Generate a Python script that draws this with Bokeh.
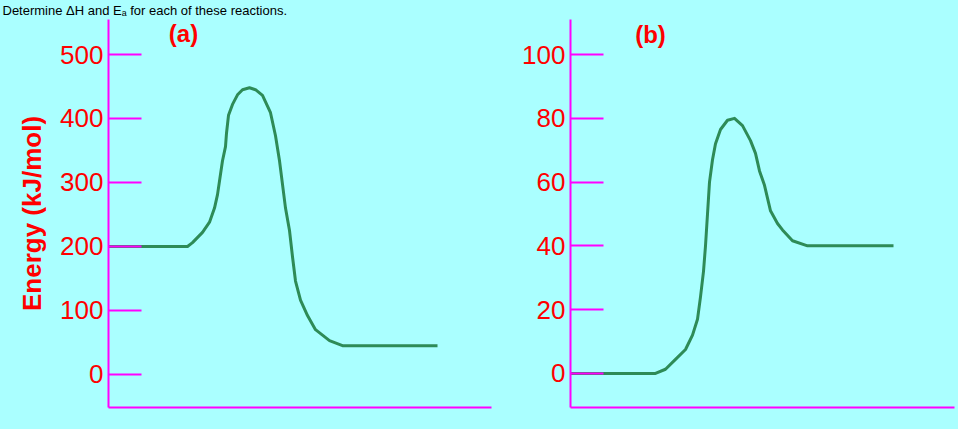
from bokeh.plotting import figure
from bokeh.models import Range1d, FixedTicker, Label, Title
from bokeh.layouts import row
from bokeh.embed import file_html
from bokeh.resources import INLINE

# ---- data ----
progress_a = [0, 79, 84, 94, 101, 106, 109, 112, 114, 117, 118, 120, 124, 129, 134, 141,
              147, 154, 162, 167, 171, 174, 177, 181, 184, 187, 192, 199, 207, 221, 234, 329]
energy_a = [200, 200, 206, 222, 238, 260, 281, 313, 334, 356, 377, 405, 422, 437, 445, 448,
            445, 436, 409, 373, 334, 297, 260, 225, 184, 146, 116, 92, 70, 53, 45, 45]

progress_b = [0, 85, 95, 105, 115, 122, 127, 130, 133, 135, 137, 139, 142, 145, 150, 157,
              164, 172, 180, 185, 189, 194, 197, 200, 207, 212, 222, 237, 323]
energy_b = [0, 0, 1.3, 4.4, 7.5, 12, 17, 24, 32, 40, 50, 60, 67, 72, 76.5, 79.4,
            80, 77.7, 73, 69, 63.5, 59, 55, 51, 47, 45, 41.6, 40, 40]

ticks_a = [0, 100, 200, 300, 400, 500]
ticks_b = [0, 20, 40, 60, 80, 100]
title_a = "(a)"
title_b = "(b)"
y_label = "Energy (kJ/mol)"
header = "Determine \u0394H and E\u2090 for each of these reactions."

BG = "#aaffff"
AX = "#ff00ff"
RED = "#ff0000"
GREEN = "#2e8b57"
FONT = "Liberation Sans"


def make_panel(xs, ys, yr, xr, ticks, width, left, right, title, tx, ty, ylab=None):
    p = figure(width=width, height=429, output_backend="svg", toolbar_location=None,
               x_range=Range1d(*xr), y_range=Range1d(*yr),
               min_border_left=left, min_border_right=right,
               min_border_top=19, min_border_bottom=22)
    p.background_fill_color = BG
    p.border_fill_color = BG
    p.outline_line_color = None
    p.grid.visible = False

    ya = p.yaxis[0]
    ya.ticker = FixedTicker(ticks=ticks)
    ya.minor_tick_line_color = None
    ya.axis_line_color = AX
    ya.axis_line_width = 2
    ya.major_tick_line_color = AX
    ya.major_tick_line_width = 2
    ya.major_tick_in = 33
    ya.major_tick_out = 0
    ya.major_label_standoff = 5
    ya.major_label_text_color = RED
    ya.major_label_text_font = FONT
    ya.major_label_text_font_size = "26px"
    if ylab:
        ya.axis_label = ylab
        ya.axis_label_text_color = RED
        ya.axis_label_text_font = FONT
        ya.axis_label_text_font_style = "bold"
        ya.axis_label_text_font_size = "26px"
        ya.axis_label_standoff = 10

    xa = p.xaxis[0]
    xa.ticker = FixedTicker(ticks=[])
    xa.minor_tick_line_color = None
    xa.major_tick_line_color = None
    xa.axis_line_color = AX
    xa.axis_line_width = 2

    p.line(xs, ys, line_color=GREEN, line_width=3, line_join="round")

    # screen units are measured from the frame's bottom-left corner
    p.add_layout(Label(x=tx, y=ty, x_units="screen", y_units="screen", text=title,
                       text_color=RED, text_font=FONT, text_font_style="bold",
                       text_font_size="24px", text_align="center",
                       text_baseline="middle"))
    return p


pa = make_panel(progress_a, energy_a, (-51.6, 554.7), (0, 383), ticks_a,
                500, 108, 9, title_a, 75, 374, ylab=y_label)
pb = make_panel(progress_b, energy_b, (-10.7, 111.0), (0, 384), ticks_b,
                458, 70, 4, title_b, 80, 373)

pa.title = Title(text=header, align="left", offset=-106, standoff=0,
                 text_color="#000000", text_font=FONT, text_font_size="13px",
                 text_font_style="normal", vertical_align="top")

layout = row(pa, pb, styles={"background-color": BG})
open("out.html", "w").write(file_html(layout, INLINE))
